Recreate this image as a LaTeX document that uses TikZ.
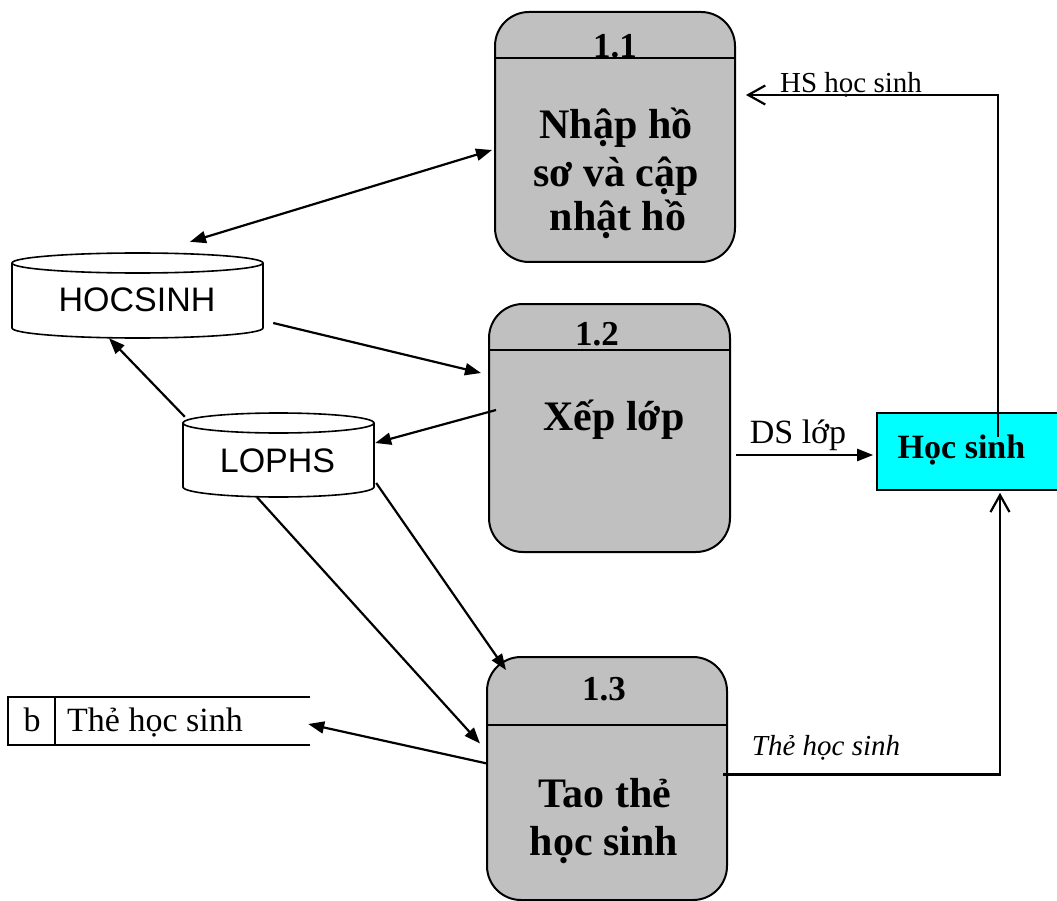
\documentclass[tikz,border=0pt]{standalone}
\usepackage{fontspec}
\setmainfont{Liberation Serif}
\newfontfamily\arialf{Liberation Sans}
\usetikzlibrary{arrows.meta,calc}
\definecolor{procgray}{HTML}{C0C0C0}
\definecolor{entcyan}{HTML}{00FFFF}
\newcommand\mycyl[5]{%
 \draw[line width=1.6pt, fill=white] (#1,#3) -- (#1,#4) arc[start angle=180, end angle=0, x radius={(#2-#1)/2}, y radius=#5] -- (#2,#3);
 \draw[line width=1.6pt, fill=white] ({(#1+#2)/2},#3) ellipse[x radius={(#2-#1)/2}, y radius=#5];}
\tikzset{
 proc/.style={draw, line width=2pt, fill=procgray, rounded corners=34pt, minimum width=240pt, inner sep=0},
 flow/.style={line width=2.2pt, -{Triangle[length=16pt,width=12pt]}},
 dflow/.style={line width=2.2pt, {Triangle[length=16pt,width=12pt]}-{Triangle[length=16pt,width=12pt]}},
 oflow/.style={line width=2.2pt, -{Straight Barb[length=17pt,width=19pt,line width=2.2pt]}},
 lbl/.style={anchor=base, inner sep=0},
 ptitle/.style={lbl, font=\fontsize{42}{48}\selectfont\bfseries},
 pnum/.style={lbl, font=\fontsize{35}{40}\selectfont\bfseries},
 hole/.style={inner sep=0, draw=none},
 divider/.style={line width=2pt},
}
\begin{document}
\begin{tikzpicture}[x=1pt,y=-1pt]
\useasboundingbox (0,0) rectangle (1057,901);
% process boxes
\node[proc, minimum height=250pt] (p11) at (615,137) {};
\node[proc, minimum height=248pt, minimum width=241pt] (p12) at (609.5,428) {};
\node[proc, minimum height=243pt] (p13) at (607,778.5) {};
\draw[divider] (p11.west |- 0,58) -- (p11.east |- 0,58);
\draw[divider] (p12.west |- 0,350) -- (p12.east |- 0,350);
\draw[divider] (p13.west |- 0,725) -- (p13.east |- 0,725);
\node[pnum] (n11) at (615,58) {1.1};
\node[pnum] (n12) at (597,345) {1.2};
\node[pnum] (n13) at (604,700) {1.3};
\node[ptitle] (t11a) at (616,139) {Nhập hồ};
\node[ptitle] (t11b) at (616,187) {sơ và cập};
\node[ptitle] (t11c) at (618,231) {nhật hồ};
\node[ptitle] (t12) at (614,430) {Xếp lớp};
\node[ptitle] (t13a) at (605,807) {Tao thẻ};
\node[ptitle] (t13b) at (604,855) {học sinh};
% data stores (cylinders)
\mycyl{12}{263}{263}{328}{10}
\mycyl{183}{374}{423}{487}{10}
\node[hole, minimum width=251pt, minimum height=86pt] (hs) at (137.5,296) {};
\node[hole, minimum width=191pt, minimum height=84pt] (lp) at (278.5,455) {};
\node[lbl, font=\arialf\fontsize{34}{40}\selectfont] (hst) at (137,312) {HOCSINH};
\node[lbl, font=\arialf\fontsize{34}{40}\selectfont] (lpt) at (277.5,472) {LOPHS};
% store b
\draw[line width=1.6pt] (310,697) -- (8,697) -- (8,745) -- (310,745);
\draw[line width=1.6pt] (55,697) -- (55,745);
\node[hole, minimum width=302pt, minimum height=48pt] (ts) at (159,721) {};
\node[lbl, font=\fontsize{34}{40}\selectfont] (tsb) at (32,731) {b};
\node[lbl, anchor=base west, font=\fontsize{34}{40}\selectfont] (tst) at (67,731) {Thẻ học sinh};
% external entity
\node[draw, line width=1.6pt, fill=entcyan, minimum width=181pt, minimum height=77pt, inner sep=0] (ent) at (967.5,451.5) {};
\node[lbl, font=\fontsize{34}{40}\selectfont\bfseries] (entt) at (961.5,458) {Học sinh};
% connectors
\draw[dflow] ($(hs.north)+(52.5,-11)$) -- ($(p11.west)+(-2,13)$);
\draw[flow] ($(hs.east)+(10,27)$) -- ($(p12.west)+(-7,-55)$);
\draw[flow] ($(p12.west)+(8,-18)$) -- ($(lp.east)+(1,-12)$);
\draw[flow] ($(lp.north west)+(2,4)$) -- ($(hs.south)+(-28.5,-1)$);
\draw[flow] ($(lp.east)+(2,28)$) -- ($(p13.north)+(-101,14)$);
\draw[flow] ($(lp.south)+(-21.5,0)$) -- ($(p13.west)+(-6,-35)$);
\draw[flow] ($(p13.west)+(1,-15)$) -- ($(ts.east)+(-2,3)$);
\draw[oflow] ($(p13.east)+(-5,-4)$) -| ($(ent.south)+(32.5,2)$);
\draw[flow] ($(p12.east)+(5,27)$) -- ($(ent.west)+(-3,3.5)$);
\draw[oflow] ($(ent.center)+(30.5,-14.5)$) |- ($(p11.east)+(10,-42)$);
% labels
\node[lbl, font=\fontsize{29}{34}\selectfont] (lhs) at (851,93) {HS học sinh};
\node[lbl, font=\fontsize{34}{40}\selectfont] (lds) at (798,443) {DS lớp};
\node[lbl, font=\fontsize{29}{34}\selectfont\itshape] (lth) at (826,755) {Thẻ học sinh};
\end{tikzpicture}
\end{document}
